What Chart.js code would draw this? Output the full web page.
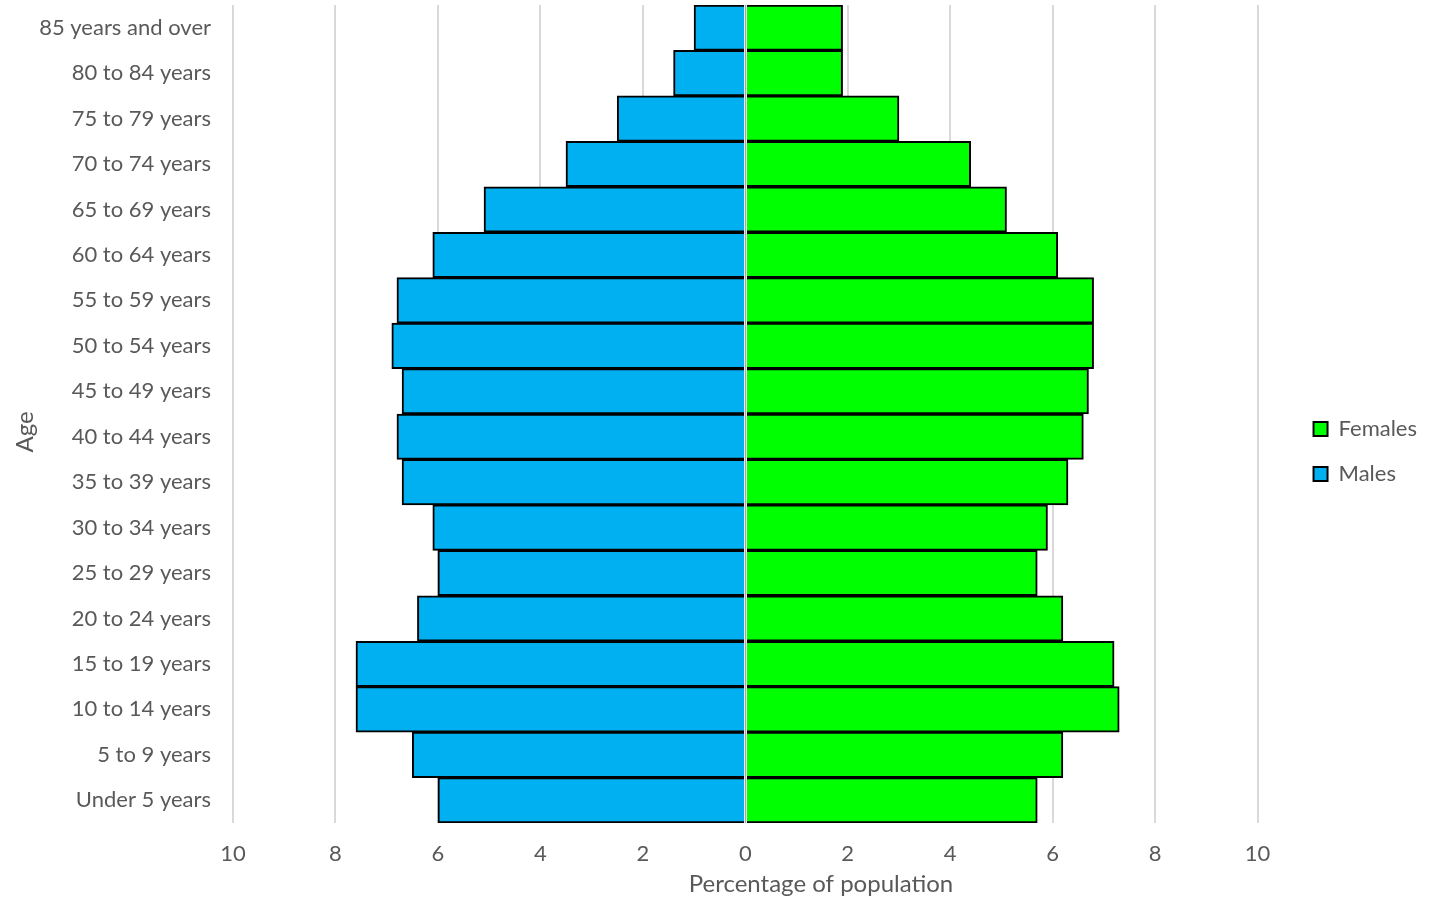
<!DOCTYPE html>
<html lang="en">
  <head>
    <meta charset="UTF-8" />
    <title>Population Pyramid</title>
    <script src="https://cdn.jsdelivr.net/npm/chart.js"></script>
    <style>
      body { margin: 0; background: #fff; }
      #pyramid { display: block; }
    </style>
  </head>
  <body>
    <canvas id="pyramid" width="1440" height="898"></canvas>

    <script>
      // Age groups, top of the pyramid first
      const ageGroups = [
        "85 years and over", "80 to 84 years", "75 to 79 years", "70 to 74 years",
        "65 to 69 years", "60 to 64 years", "55 to 59 years", "50 to 54 years",
        "45 to 49 years", "40 to 44 years", "35 to 39 years", "30 to 34 years",
        "25 to 29 years", "20 to 24 years", "15 to 19 years", "10 to 14 years",
        "5 to 9 years", "Under 5 years",
      ];

      // Percentage of population (males drawn to the left as negatives)
      const malesPct = [1.0, 1.4, 2.5, 3.5, 5.1, 6.1, 6.8, 6.9, 6.7, 6.8, 6.7, 6.1, 6.0, 6.4, 7.6, 7.6, 6.5, 6.0];
      const femalesPct = [1.9, 1.9, 3.0, 4.4, 5.1, 6.1, 6.8, 6.8, 6.7, 6.6, 6.3, 5.9, 5.7, 6.2, 7.2, 7.3, 6.2, 5.7];

      const xTicks = [-10, -8, -6, -4, -2, 0, 2, 4, 6, 8, 10];

      const textGray = "#595959";
      const fontName = "Lato, 'Open Sans', sans-serif";

      // grey line down the middle at zero, over the bars
      const zeroLine = {
        id: "zeroLine",
        afterDatasetsDraw(chart) {
          const { ctx, chartArea, scales } = chart;
          const x = Math.round(scales.x.getPixelForValue(0)) + 0.5;
          ctx.save();
          ctx.strokeStyle = "#ffffff";
          ctx.lineWidth = 3;
          ctx.beginPath();
          ctx.moveTo(x, chartArea.top);
          ctx.lineTo(x, chartArea.bottom);
          ctx.stroke();
          ctx.strokeStyle = "#a6a6a6";
          ctx.lineWidth = 1.5;
          ctx.stroke();
          ctx.restore();
        },
      };

      // axis titles sit off-centre in the original, so place them by hand
      const axisTitles = {
        id: "axisTitles",
        afterDraw(chart) {
          const { ctx } = chart;
          ctx.save();
          ctx.font = "24px " + fontName;
          ctx.fillStyle = textGray;
          ctx.textAlign = "center";
          ctx.textBaseline = "middle";
          ctx.fillText("Percentage of population", 821, 884);
          ctx.translate(25, 432);
          ctx.rotate(-Math.PI / 2);
          ctx.fillText("Age", 0, 0);
          ctx.restore();
        },
      };

      new Chart(document.getElementById("pyramid").getContext("2d"), {
        type: "bar",
        data: {
          labels: ageGroups,
          datasets: [
            {
              label: "Males",
              data: malesPct.map((v) => -v),
              backgroundColor: "#00b0f0",
              borderColor: "#000000",
              borderWidth: 2,
            },
            {
              label: "Females",
              data: femalesPct,
              backgroundColor: "#00ff00",
              borderColor: "#000000",
              borderWidth: 2,
            },
          ],
        },
        options: {
          indexAxis: "y",
          responsive: false,
          animation: false,
          barPercentage: 1,
          categoryPercentage: 1,
          layout: { padding: { top: 5, right: 13, bottom: 0, left: 0 } },
          scales: {
            x: {
              type: "linear",
              min: -10,
              max: 10,
              stacked: true,
              afterBuildTicks: (s) => { s.ticks = xTicks.map((v) => ({ value: v })); },
              afterFit: (s) => { s.height = 75; },
              grid: { color: "#d9d9d9", lineWidth: 2, drawTicks: false },
              border: { display: false },
              ticks: {
                padding: 18,
                color: textGray,
                font: { family: fontName, size: 22 },
                callback: (v) => Math.abs(v),
              },
            },
            y: {
              stacked: true,
              afterFit: (s) => {
                s.width = 233;
                s.paddingTop = 0;
                s.paddingBottom = 0;
              },
              grid: { display: false },
              border: { display: false },
              ticks: {
                padding: 14,
                color: textGray,
                font: { family: fontName, size: 22 },
              },
            },
            // empty axis that keeps the legend away from the bars
            gap: {
              type: "linear",
              position: "right",
              display: true,
              grid: { display: false },
              border: { display: false },
              ticks: { display: false },
              afterFit: (s) => { s.width = 33; },
            },
          },
          plugins: {
            tooltip: { enabled: false },
            legend: {
              position: "right",
              reverse: true,
              labels: {
                color: textGray,
                font: { family: fontName, size: 22 },
                boxWidth: 14,
                boxHeight: 14,
                padding: 23,
              },
            },
          },
        },
        plugins: [zeroLine, axisTitles],
      });
    </script>
  </body>
</html>
